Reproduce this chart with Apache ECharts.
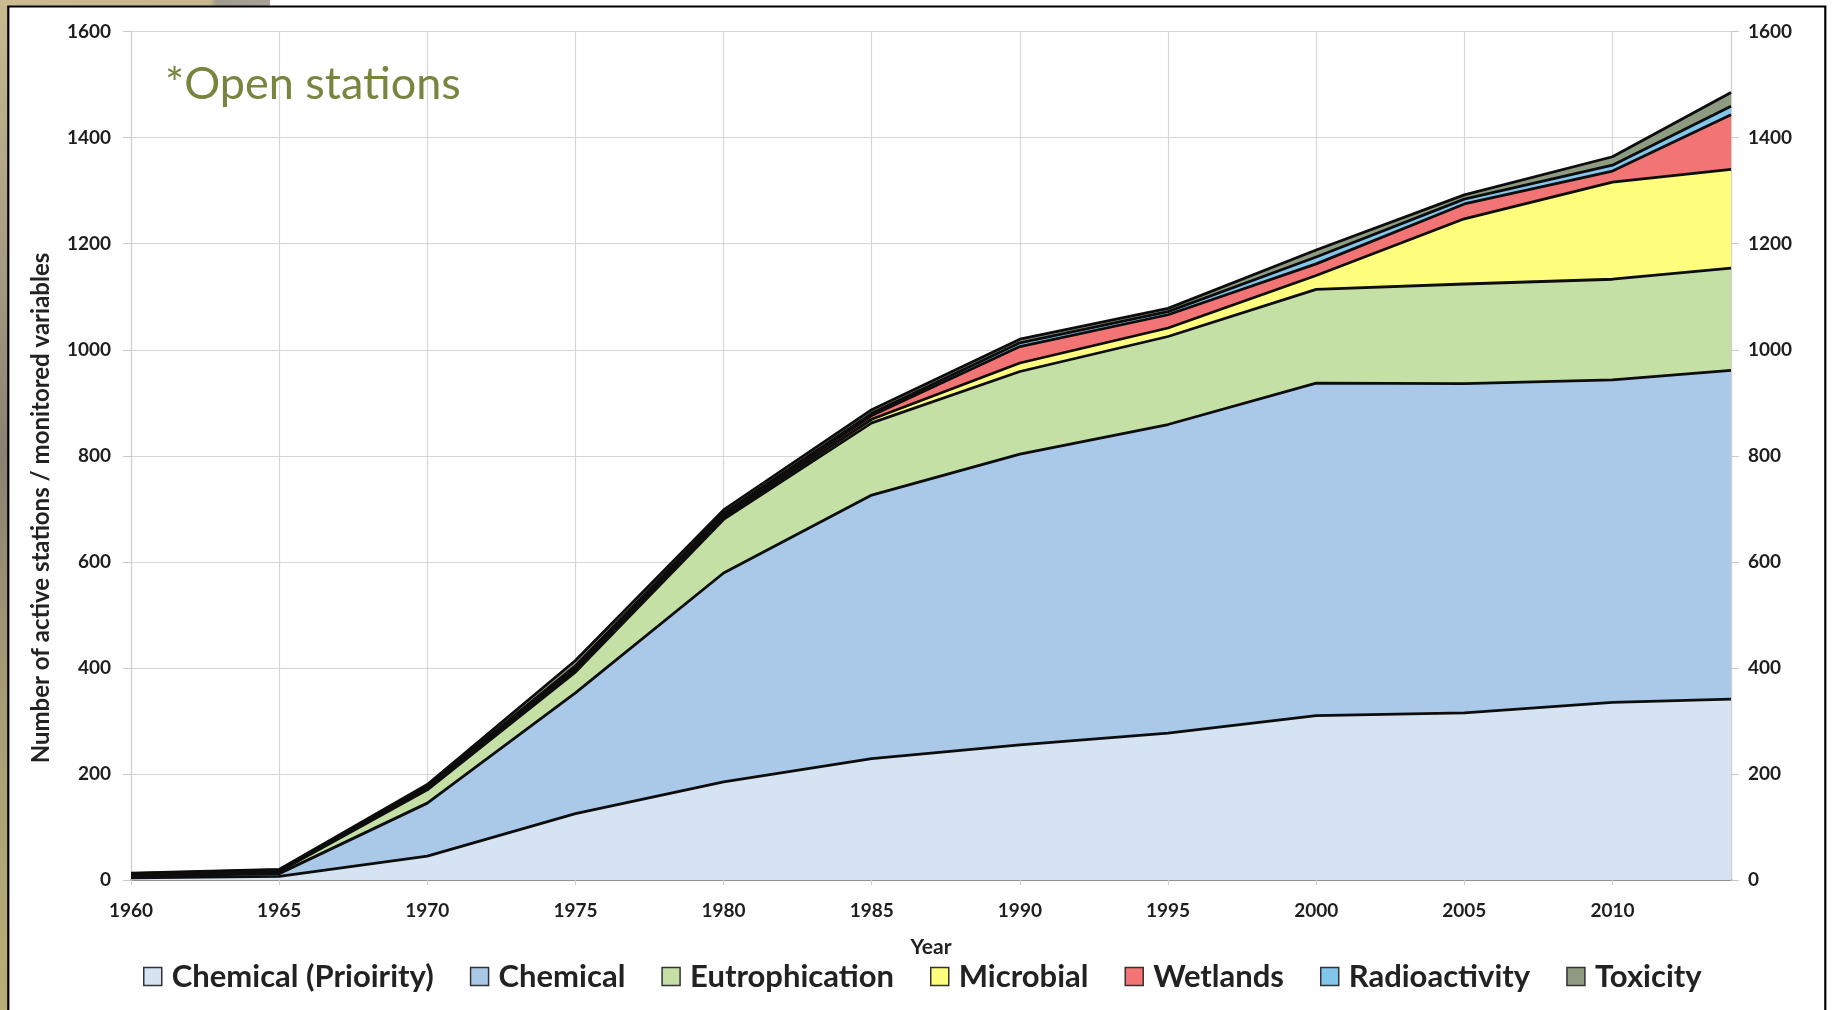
<!DOCTYPE html>
<html><head><meta charset="utf-8">
<script src="https://cdn.jsdelivr.net/npm/echarts/dist/echarts.min.js"></script>
<style>html,body{margin:0;padding:0;background:#fff}#c{width:1833px;height:1010px}#err{position:absolute;left:300px;top:200px;color:red;font:20px monospace;white-space:pre}</style>
</head><body><div id="c"></div><div id="err"></div>
<script>
const years = [1960,1965,1970,1975,1980,1985,1990,1995,2000,2005,2010,2014];
const chemicalPriority = [4, 7, 45, 125, 185, 229, 255, 277, 310, 315, 335, 341];
const chemical        = [3, 5, 100, 228, 394, 497, 548, 582, 627, 621, 608, 620];
const eutrophication  = [2, 4, 25, 39, 101, 136, 156, 166, 177, 188, 190, 193];
const microbial       = [1, 1, 2, 4, 4, 7, 16, 16, 26, 123, 183, 186];
const wetlands        = [1, 1, 2, 4, 4, 7, 31, 25, 22, 28, 21, 103];
const radioactivity   = [1, 1, 2, 4, 4, 4, 7, 6, 13, 9, 11, 16];
const toxicity        = [1, 1, 4, 10, 6, 7, 7, 6, 13, 8, 16, 26];
const seriesNames = ['Chemical (Prioirity)','Chemical','Eutrophication','Microbial','Wetlands','Radioactivity','Toxicity'];
const seriesValues = [chemicalPriority, chemical, eutrophication, microbial, wetlands, radioactivity, toxicity];
const seriesColors = ['#d5e3f3','#aac8e8','#c5e0a5','#ffff7d','#f27474','#82c6ec','#8e9b80'];
const yTicks = {min: 0, max: 1600, interval: 200};
const xTicks = {min: 1960, max: 2014, interval: 5};

try {
const FONT = 'Lato';
const chart = echarts.init(document.getElementById('c'), null, {renderer: 'canvas'});
// running totals (stacked layers), drawn as opaque areas from the axis, lower layers in front
const cumulative = [];
seriesValues.forEach((vals, i) => {
  cumulative.push(vals.map((v, k) => v + (i > 0 ? cumulative[i - 1][k] : 0)));
});
const series = seriesNames.map((name, i) => ({
  name, type: 'line', z: 20 - i,
  data: years.map((y, k) => [y, cumulative[i][k]]),
  showSymbol: false, symbol: 'none',
  color: seriesColors[i],
  itemStyle: {color: seriesColors[i]},
  lineStyle: {color: '#0d0d0d', width: 2.8, join: 'round'},
  areaStyle: {color: seriesColors[i], opacity: 1},
  emphasis: {disabled: true}
}));

const labelStyle = {fontFamily: FONT, fontWeight: 'bold', fontSize: 19, color: '#1e1e1e'};
const plain = v => String(v);
chart.setOption({
  animation: false,
  backgroundColor: '#ffffff',
  grid: {left: 131, right: 102, top: 31.6, bottom: 130, containLabel: false},
  xAxis: [{
    type: 'value', min: xTicks.min, max: xTicks.max, interval: xTicks.interval,
    position: 'bottom',
    name: 'Year', nameLocation: 'middle', nameGap: 57,
    nameTextStyle: {fontFamily: FONT, fontWeight: 'bold', fontSize: 21, color: '#222'},
    axisLine: {show: true, lineStyle: {color: '#8c8c8c', width: 1.5}},
    axisTick: {show: true, length: 5, lineStyle: {color: '#d0d0d0'}},
    axisLabel: Object.assign({margin: 21, showMaxLabel: false,
      formatter: v => (v === 2014 ? '' : String(v))}, labelStyle),
    splitLine: {show: true, lineStyle: {color: '#d6d6d6', width: 1.2}}
  }, {
    type: 'value', min: xTicks.min, max: xTicks.max, interval: xTicks.interval,
    position: 'top',
    axisLine: {show: true, lineStyle: {color: '#8c8c8c', width: 1.5}},
    axisTick: {show: false}, axisLabel: {show: false}, splitLine: {show: false}
  }],
  yAxis: [{
    type: 'value', min: yTicks.min, max: yTicks.max, interval: yTicks.interval, position: 'left',
    axisLine: {show: true, lineStyle: {color: '#d0d0d0', width: 1.2}},
    axisTick: {show: true, length: 8, lineStyle: {color: '#c8c8c8'}},
    axisLabel: Object.assign({margin: 20, formatter: plain}, labelStyle),
    splitLine: {show: true, lineStyle: {color: '#d6d6d6', width: 1.2}}
  }, {
    type: 'value', min: yTicks.min, max: yTicks.max, interval: yTicks.interval, position: 'right',
    axisLine: {show: true, lineStyle: {color: '#d0d0d0', width: 1.2}},
    axisTick: {show: true, length: 8, lineStyle: {color: '#c8c8c8'}},
    axisLabel: Object.assign({margin: 17, formatter: plain}, labelStyle),
    splitLine: {show: false}
  }],
  legend: {
    data: seriesNames,
    left: 138, top: 956,
    itemGap: 36, itemWidth: 18, itemHeight: 18, icon: 'rect',
    itemStyle: {borderColor: '#333', borderWidth: 1.5},
    textStyle: {fontFamily: FONT, fontWeight: 'bold', fontSize: 31, color: '#222', padding: [0, 0, 0, 5]},
    selectedMode: false
  },
  graphic: [
    {type: 'rect', silent: true, z: 100, shape: {x: 0, y: 0, width: 8, height: 1010},
     style: {fill: new echarts.graphic.LinearGradient(0, 0, 0, 1, [
       {offset: 0, color: '#c9bb8f'}, {offset: 0.25, color: '#a89d84'}, {offset: 0.45, color: '#8b8172'},
       {offset: 0.7, color: '#a99d76'}, {offset: 1, color: '#b9ae76'}])}},
    {type: 'rect', silent: true, z: 100, shape: {x: 0, y: 0, width: 270, height: 6},
     style: {fill: new echarts.graphic.LinearGradient(0, 0, 1, 0, [
       {offset: 0, color: '#cabc90'}, {offset: 0.78, color: '#c6b88c'}, {offset: 0.8, color: '#a19b90'}, {offset: 1, color: '#a7a196'}])}},
    {type: 'rect', silent: true, z: 101, shape: {x: 8.3, y: 6.5, width: 1817, height: 1020},
     style: {fill: 'none', stroke: '#000', lineWidth: 2.2}},
    {type: 'text', silent: true, z: 101, x: 165, y: 84,
     style: {text: '*Open stations', font: 'normal 45px Lato', fill: '#77853f',
       textAlign: 'left', textVerticalAlign: 'middle'}},
    {type: 'text', silent: true, z: 101, x: 41, y: 508, rotation: Math.PI / 2,
     style: {text: 'Number of active stations / monitored variables', font: 'bold 24px Lato', fill: '#222',
       textAlign: 'center', textVerticalAlign: 'middle'}}
  ],
  series
});
} catch (e) { document.getElementById('err').textContent = String(e && e.stack || e); }
</script></body></html>
